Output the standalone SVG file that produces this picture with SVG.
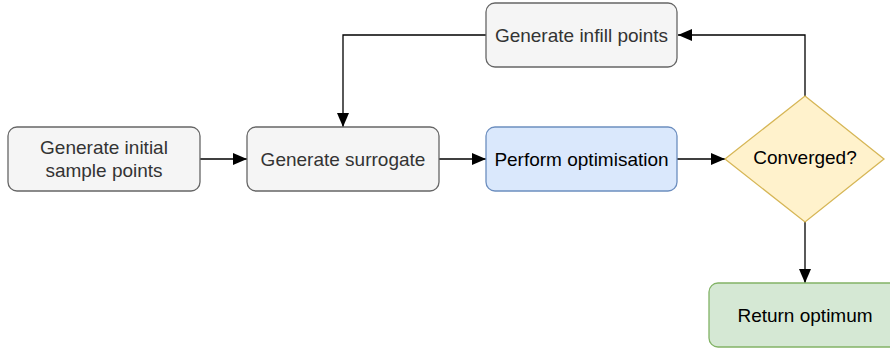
<svg xmlns="http://www.w3.org/2000/svg" width="890" height="349" viewBox="0 0 890 349">
  <style>
    .lbl { font-family: "Liberation Sans", Arial, sans-serif; font-size: 19px; text-anchor: middle; dominant-baseline: central; }
    .gray rect { fill: #f5f5f5; stroke: #666666; stroke-width: 1.3; }
    .gray text { fill: #333333; }
    .blue rect { fill: #dae8fc; stroke: #6c8ebf; stroke-width: 1.3; }
    .green rect { fill: #d5e8d4; stroke: #82b366; stroke-width: 1.3; }
    .yellow polygon { fill: #fff2cc; stroke: #d6b656; stroke-width: 1.3; }
    .edge { fill: none; stroke: #000000; stroke-width: 1.3; }
  </style>
  <defs>
    <marker id="arrow" viewBox="0 0 14 12" refX="14" refY="6" markerWidth="14" markerHeight="12" markerUnits="userSpaceOnUse" orient="auto">
      <path d="M0,0 L14,6 L0,12 z" fill="#000000"/>
    </marker>
  </defs>

  <g id="connectors">
    <path class="edge" d="M200,159 L247,159" marker-end="url(#arrow)"/>
    <path class="edge" d="M439,159 L486,159" marker-end="url(#arrow)"/>
    <path class="edge" d="M677,159 L725,159" marker-end="url(#arrow)"/>
    <path class="edge" d="M805,96 L805,35 L678,35" marker-end="url(#arrow)"/>
    <path class="edge" d="M486,35 L343,35 L343,127" marker-end="url(#arrow)"/>
    <path class="edge" d="M805,222 L805,283" marker-end="url(#arrow)"/>
  </g>

  <g id="initial" class="gray">
    <rect x="8" y="127" width="192" height="64" rx="9"/>
    <text class="lbl" x="104" y="147">Generate initial</text>
    <text class="lbl" x="104" y="170">sample points</text>
  </g>

  <g id="surrogate" class="gray">
    <rect x="247" y="127" width="192" height="64" rx="9"/>
    <text class="lbl" x="343" y="159">Generate surrogate</text>
  </g>

  <g id="optimise" class="blue">
    <rect x="486" y="127" width="191" height="64" rx="9"/>
    <text class="lbl" x="581.5" y="159">Perform optimisation</text>
  </g>

  <g id="infill" class="gray">
    <rect x="486" y="3" width="191" height="64" rx="9"/>
    <text class="lbl" x="581.5" y="35">Generate infill points</text>
  </g>

  <g id="converged" class="yellow">
    <polygon points="805,96 884,159 805,222 725,159"/>
    <text class="lbl" x="805" y="157">Converged?</text>
  </g>

  <g id="result" class="green">
    <rect x="709" y="283" width="192" height="64" rx="9"/>
    <text class="lbl" x="805" y="315">Return optimum</text>
  </g>
</svg>
